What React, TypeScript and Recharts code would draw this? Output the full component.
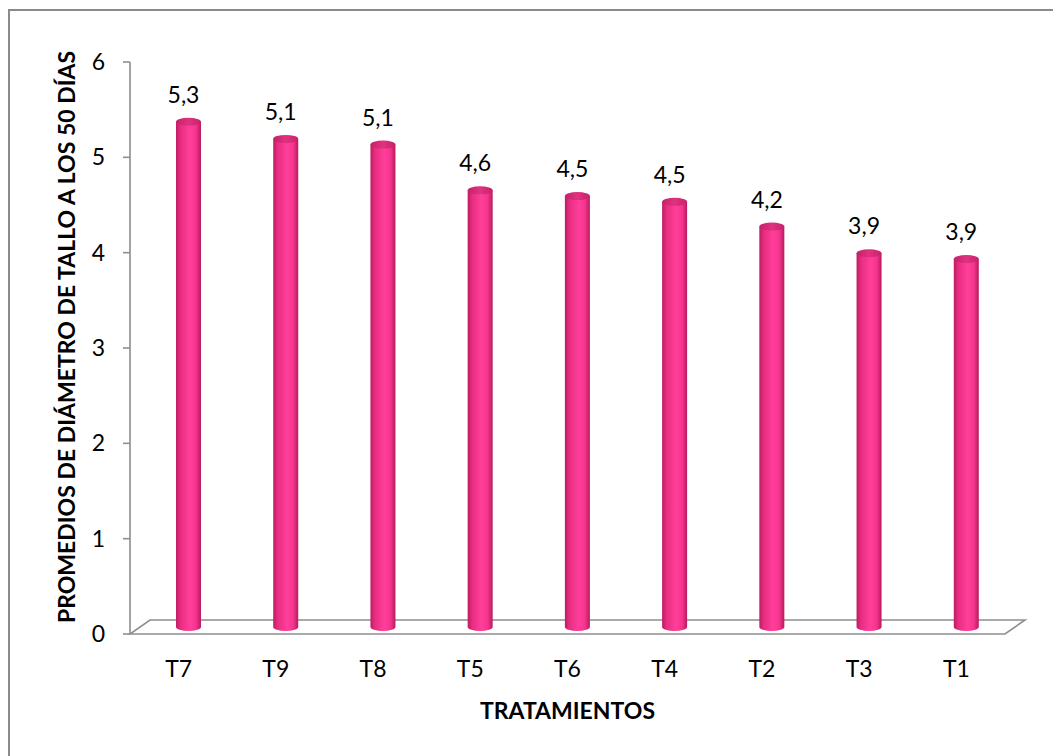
import React from "react";
import { BarChart, Bar, XAxis, YAxis, LabelList, Label, ReferenceArea } from "recharts";

// Tratamientos ordenados de mayor a menor promedio
const categories = ["T7", "T9", "T8", "T5", "T6", "T4", "T2", "T3", "T1"];
const diametro = [5.3, 5.12, 5.06, 4.58, 4.52, 4.46, 4.2, 3.92, 3.86];
const yTicks = [0, 1, 2, 3, 4, 5, 6];

const data = categories.map((c, i) => ({ tratamiento: c, diametro: diametro[i] }));

const FONT = "Lato, 'Open Sans', sans-serif";
const FONT_SIZE = 23;
const DEPTH_X = 20;
const DEPTH_Y = 14;
const AXIS_GRAY = "#8e8e8e";

const fmt = (v: number) => v.toFixed(1).replace(".", ",");

// Cylinder drawn half-way into the floor depth
const Cylinder = (props: any) => {
  const { x, y, width, height } = props;
  if (height <= 0) return null;
  const cx = x + width / 2 + DEPTH_X / 2;
  const top = y - DEPTH_Y / 2;
  const bottom = y + height - DEPTH_Y / 2;
  const rx = width / 2;
  const ry = 4;
  const left = cx - rx;
  const right = cx + rx;
  const body = `M${left},${top} L${left},${bottom} A${rx},${ry} 0 0 0 ${right},${bottom} L${right},${top} Z`;
  return (
    <g>
      <path d={body} fill="url(#cylBody)" />
      <ellipse cx={cx} cy={top} rx={rx} ry={ry} fill="url(#cylTop)" />
    </g>
  );
};

// 3-D floor under the bars
const Floor = (props: any) => {
  const { x, y, width, height } = props;
  const fy = y + height;
  const pts = [
    [x, fy],
    [x + width, fy],
    [x + width + DEPTH_X, fy - DEPTH_Y],
    [x + DEPTH_X, fy - DEPTH_Y],
  ]
    .map((p) => p.join(","))
    .join(" ");
  return <polygon points={pts} fill="none" stroke={AXIS_GRAY} strokeWidth={1.6} />;
};

const ValueLabel = (props: any) => {
  const { x, y, width, value } = props;
  return (
    <text
      x={x + width / 2 + 5}
      y={y - 26}
      textAnchor="middle"
      fontFamily={FONT}
      fontSize={FONT_SIZE}
      fill="#000"
    >
      {fmt(value)}
    </text>
  );
};

const YTitle = (props: any) => {
  const vb = props.viewBox || {};
  const cx = 58;
  const cy = vb.y + vb.height / 2 - 11;
  return (
    <text
      x={cx}
      y={cy}
      transform={`rotate(-90, ${cx}, ${cy})`}
      textAnchor="middle"
      dominantBaseline="central"
      fontFamily={FONT}
      fontWeight="bold"
      fontSize={FONT_SIZE}
      fill="#000"
    >
      PROMEDIOS DE DIÁMETRO DE TALLO A LOS 50 DÍAS
    </text>
  );
};

export default function App() {
  return (
    <div style={{ position: "relative", width: 1053, height: 748 }}>
      <BarChart
        width={1053}
        height={748}
        data={data}
        margin={{ top: 54, right: 56, bottom: 62, left: 62 }}
      >
        <defs>
          <linearGradient id="cylBody" x1="0" y1="0" x2="1" y2="0">
            <stop offset="0%" stopColor="#bd1b63" />
            <stop offset="18%" stopColor="#e82d81" />
            <stop offset="55%" stopColor="#ff3f9a" />
            <stop offset="80%" stopColor="#f5358d" />
            <stop offset="100%" stopColor="#b81a5f" />
          </linearGradient>
          <linearGradient id="cylTop" x1="0" y1="0" x2="1" y2="0">
            <stop offset="0%" stopColor="#c42169" />
            <stop offset="50%" stopColor="#e0327f" />
            <stop offset="100%" stopColor="#c7226b" />
          </linearGradient>
        </defs>
        <ReferenceArea
          x1="T7"
          x2="T1"
          y1={0}
          y2={6}
          shape={<Floor />}
          ifOverflow="visible"
        />
        <XAxis
          dataKey="tratamiento"
          axisLine={false}
          tickLine={false}
          tickSize={0}
          tickMargin={27}
          height={60}
          tick={{ fontFamily: FONT, fontSize: FONT_SIZE, fill: "#000" }}
          interval={0}
        >
          <Label
            value="TRATAMIENTOS"
            position="bottom"
            offset={9}
            style={{ fontFamily: FONT, fontWeight: "bold", fontSize: FONT_SIZE, fill: "#000" }}
          />
        </XAxis>
        <YAxis
          domain={[0, 6]}
          ticks={yTicks}
          width={60}
          axisLine={{ stroke: AXIS_GRAY, strokeWidth: 1.6 }}
          tickLine={{ stroke: AXIS_GRAY, strokeWidth: 1.6 }}
          tickSize={7}
          tickMargin={18}
          tick={{ fontFamily: FONT, fontSize: FONT_SIZE, fill: "#000" }}
          allowDecimals={false}
        >
          <Label content={<YTitle />} />
        </YAxis>
        <Bar dataKey="diametro" barSize={25} shape={<Cylinder />} isAnimationActive={false}>
          <LabelList dataKey="diametro" content={<ValueLabel />} />
        </Bar>
      </BarChart>
      <div
        style={{
          position: "absolute",
          left: 0,
          top: 1,
          borderTop: "2px solid #8a8a8a",
          borderLeft: "2px solid #8a8a8a",
          pointerEvents: "none",
          boxSizing: "border-box",
          width: 1053,
          height: 747,
        }}
      />
    </div>
  );
}
